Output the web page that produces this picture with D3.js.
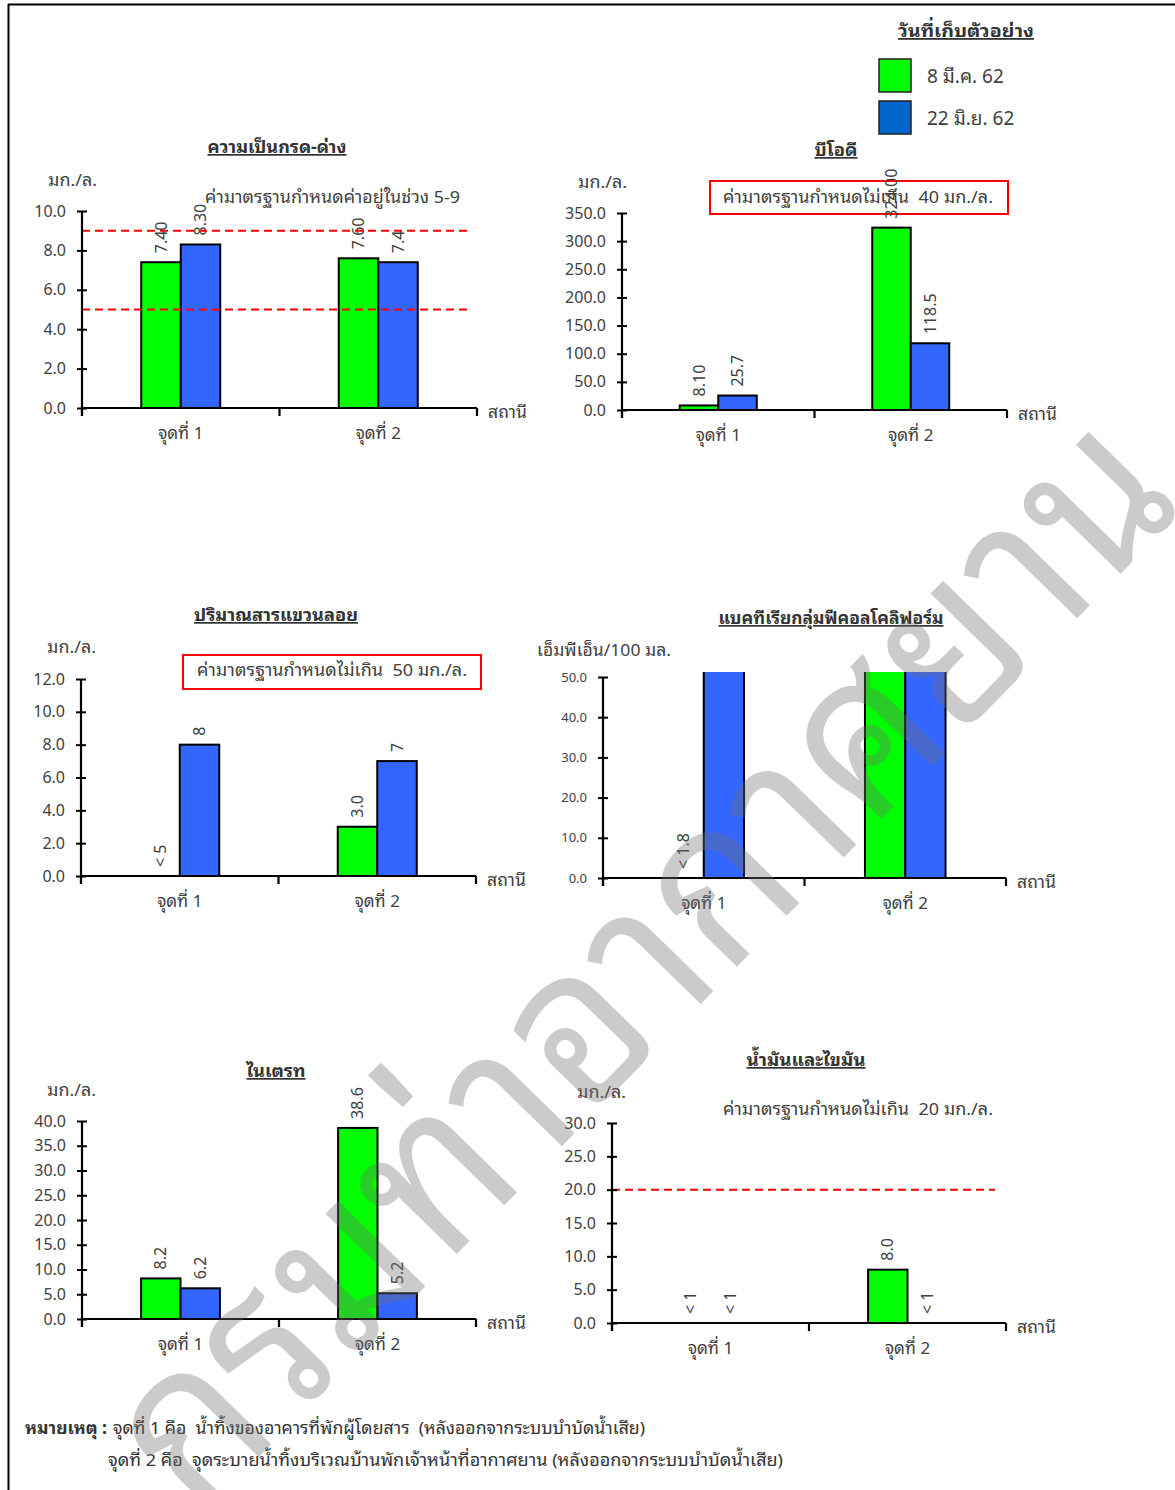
<!DOCTYPE html>
<html><head><meta charset="utf-8">
<script src="https://cdn.jsdelivr.net/npm/d3@7"></script>
<style>
body{margin:0;background:#fff;}
svg text{font-family: Tahoma, "Noto Sans Thai Looped", "Loma", "Garuda", "Noto Sans Thai", "Leelawadee UI", "Noto Sans", "DejaVu Sans", sans-serif;}
</style></head><body>
<svg id="c" width="1175" height="1490"></svg>
<script>
// ---------- DATA ----------
const categories = ["จุดที่ 1", "จุดที่ 2"];
const seriesNames = ["8 มี.ค. 62", "22 มิ.ย. 62"];

const phMar = [7.40, 7.60];
const phJun = [8.30, 7.4];
const phMarLabels = ["7.40", "7.60"];
const phJunLabels = ["8.30", "7.4"];
const phTicks = [0, 2, 4, 6, 8, 10];
const phLimits = [5, 9];

const bodMar = [8.10, 324.0];
const bodJun = [25.7, 118.5];
const bodMarLabels = ["8.10", "324.00"];
const bodJunLabels = ["25.7", "118.5"];
const bodTicks = [0, 50, 100, 150, 200, 250, 300, 350];

const ssMar = [0, 3.0];
const ssJun = [8, 7];
const ssMarLabels = ["< 5", "3.0"];
const ssJunLabels = ["8", "7"];
const ssTicks = [0, 2, 4, 6, 8, 10, 12];

const coliMar = [0, 540];
const coliJun = [350, 920];
const coliMarLabels = ["< 1.8", "540"];
const coliJunLabels = ["350", "920"];
const coliTicks = [0, 10, 20, 30, 40, 50];

const no3Mar = [8.2, 38.6];
const no3Jun = [6.2, 5.2];
const no3MarLabels = ["8.2", "38.6"];
const no3JunLabels = ["6.2", "5.2"];
const no3Ticks = [0, 5, 10, 15, 20, 25, 30, 35, 40];

const oilMar = [0, 8.0];
const oilJun = [0, 0];
const oilMarLabels = ["< 1", "8.0"];
const oilJunLabels = ["< 1", "< 1"];
const oilTicks = [0, 5, 10, 15, 20, 25, 30];
const oilLimits = [20];

// ---------- STYLE ----------
const GREEN = "#00ff00", BLUE = "#3366ff", LEG_BLUE = "#0066cc", TXT = "#404040";
const svg = d3.select("#c");

// page border
svg.append("line").attr("x1", 8).attr("x2", 1175).attr("y1", 4.5).attr("y2", 4.5).attr("stroke", "#000").attr("stroke-width", 2);
svg.append("line").attr("x1", 8.5).attr("x2", 8.5).attr("y1", 4).attr("y2", 1490).attr("stroke", "#000").attr("stroke-width", 2);

const charts = [
  {title: "ความเป็นกรด-ด่าง", titleW: 139, unit: "มก./ล.", unitW: 49, mar: phMar, jun: phJun, marL: phMarLabels, junL: phJunLabels, ticks: phTicks,
   x0: 82, x1: 477, yTop: 211, yBot: 408, titleX: 277, titleY: 153, unitX: 48, unitY: 186,
   std: "ค่ามาตรฐานกำหนดค่าอยู่ในช่วง 5-9", stdW: 255, stdX: 205, stdY: 203, box: null, limits: phLimits, limitEnd: 467, tickFont: 16},
  {title: "บีโอดี", titleW: 43, unit: "มก./ล.", unitW: 49, mar: bodMar, jun: bodJun, marL: bodMarLabels, junL: bodJunLabels, ticks: bodTicks,
   x0: 622, x1: 1007, yTop: 213, yBot: 410, titleX: 836, titleY: 156, unitX: 578, unitY: 188,
   std: "ค่ามาตรฐานกำหนดไม่เกิน  40 มก./ล.", stdW: 270, stdX: 723, stdY: 203, box: [710, 181, 298, 33], limits: [], limitEnd: 0, tickFont: 16},
  {title: "ปริมาณสารแขวนลอย", titleW: 164, unit: "มก./ล.", unitW: 49, mar: ssMar, jun: ssJun, marL: ssMarLabels, junL: ssJunLabels, ticks: ssTicks,
   x0: 81, x1: 476, yTop: 679, yBot: 876, titleX: 276, titleY: 621, unitX: 47, unitY: 653,
   std: "ค่ามาตรฐานกำหนดไม่เกิน  50 มก./ล.", stdW: 270, stdX: 197, stdY: 676, box: [183, 655, 298, 34], limits: [], limitEnd: 0, tickFont: 16},
  {title: "แบคทีเรียกลุ่มฟีคอลโคลิฟอร์ม", titleW: 225, unit: "เอ็มพีเอ็น/100 มล.", unitW: 134, mar: coliMar, jun: coliJun, marL: coliMarLabels, junL: coliJunLabels, ticks: coliTicks,
   x0: 603, x1: 1006, yTop: 677, yBot: 878, titleX: 831, titleY: 624, unitX: 537, unitY: 656,
   std: null, box: null, limits: [], limitEnd: 0, tickFont: 13},
  {title: "ไนเตรท", titleW: 59, unit: "มก./ล.", unitW: 49, mar: no3Mar, jun: no3Jun, marL: no3MarLabels, junL: no3JunLabels, ticks: no3Ticks,
   x0: 82, x1: 476, yTop: 1121, yBot: 1319, titleX: 276, titleY: 1077, unitX: 47, unitY: 1096,
   std: null, box: null, limits: [], limitEnd: 0, tickFont: 16},
  {title: "น้ำมันและไขมัน", titleW: 119, unit: "มก./ล.", unitW: 49, mar: oilMar, jun: oilJun, marL: oilMarLabels, junL: oilJunLabels, ticks: oilTicks,
   x0: 612, x1: 1006, yTop: 1123, yBot: 1323, titleX: 806, titleY: 1066, unitX: 577, unitY: 1098,
   std: "ค่ามาตรฐานกำหนดไม่เกิน  20 มก./ล.", stdW: 270, stdX: 723, stdY: 1115, box: null, limits: oilLimits, limitEnd: 995, tickFont: 16}
];

charts.forEach((c, ci) => {
  const g = svg.append("g");
  const x = d3.scaleBand().domain(categories).range([c.x0, c.x1]);
  const bw = x.bandwidth();
  const xs = d3.scaleBand().domain(seriesNames).range([bw * 0.3, bw * 0.7]);
  const yMax = d3.max(c.ticks);
  const y = d3.scaleLinear().domain([0, yMax]).range([c.yBot, c.yTop]);

  // clip
  const cid = "clip" + ci;
  g.append("clipPath").attr("id", cid).append("rect")
    .attr("x", c.x0).attr("y", c.yTop - 5).attr("width", c.x1 - c.x0).attr("height", c.yBot - c.yTop + 5);

  // title
  g.append("text").attr("x", c.titleX - c.titleW / 2).attr("y", c.titleY)
    .attr("font-size", 17).attr("font-weight", "bold").attr("fill", "#333")
    .attr("textLength", c.titleW).attr("lengthAdjust", "spacingAndGlyphs")
    .style("text-decoration", "underline").text(c.title);
  // unit
  g.append("text").attr("x", c.unitX).attr("y", c.unitY).attr("font-size", 17).attr("fill", TXT)
    .attr("textLength", c.unitW).attr("lengthAdjust", "spacingAndGlyphs").text(c.unit);

  // standard box & text
  if (c.box) {
    g.append("rect").attr("x", c.box[0]).attr("y", c.box[1]).attr("width", c.box[2]).attr("height", c.box[3])
      .attr("fill", "none").attr("stroke", "#ff0000").attr("stroke-width", 2);
  }
  if (c.std) {
    g.append("text").attr("x", c.stdX).attr("y", c.stdY).attr("font-size", 17).attr("fill", TXT)
      .attr("xml:space", "preserve").attr("textLength", c.stdW).attr("lengthAdjust", "spacingAndGlyphs").text(c.std);
  }

  // bars
  const rows = [];
  categories.forEach((cat, i) => {
    rows.push({cat, s: seriesNames[0], v: c.mar[i], lab: c.marL[i], col: GREEN});
    rows.push({cat, s: seriesNames[1], v: c.jun[i], lab: c.junL[i], col: BLUE});
  });
  const bars = g.append("g").attr("clip-path", `url(#${cid})`);
  bars.selectAll("rect").data(rows.filter(d => d.v > 0)).join("rect")
    .attr("x", d => x(d.cat) + xs(d.s))
    .attr("width", xs.bandwidth())
    .attr("y", d => y(d.v))
    .attr("height", d => c.yBot - y(d.v))
    .attr("fill", d => d.col).attr("stroke", "#000").attr("stroke-width", 2);

  // value labels
  g.selectAll("text.val").data(rows.filter(d => d.v <= yMax)).join("text").attr("class", "val")
    .attr("transform", d => `translate(${x(d.cat) + xs(d.s) + xs.bandwidth() / 2},${y(d.v) - 9}) rotate(-90)`)
    .attr("dy", "0.35em").attr("font-size", 16).attr("fill", TXT).text(d => d.lab);

  // limit lines
  g.selectAll("line.lim").data(c.limits).join("line").attr("class", "lim")
    .attr("x1", c.x0).attr("x2", c.limitEnd).attr("y1", d => y(d)).attr("y2", d => y(d))
    .attr("stroke", "#ff0000").attr("stroke-width", 2).attr("stroke-dasharray", "8,5");

  // y axis
  const ya = g.append("g").attr("transform", `translate(${c.x0},0)`)
    .call(d3.axisLeft(y).tickValues(c.ticks).tickFormat(d3.format(".1f")).tickSizeInner(5).tickSizeOuter(0).tickPadding(11));
  ya.select(".domain").attr("stroke-width", 2.2).attr("d", `M0,${c.yTop}V${c.yBot + 8}`);
  ya.selectAll(".tick line").attr("x1", 5).attr("stroke-width", 2);
  ya.selectAll(".tick text").attr("font-size", c.tickFont).attr("fill", TXT).attr("font-family", null);

  // x axis
  const xa = g.append("g").attr("transform", `translate(0,${c.yBot})`)
    .call(d3.axisBottom(x).tickSize(0).tickPadding(19));
  xa.select(".domain").attr("stroke-width", 2.2).attr("d", `M${c.x0},0H${c.x1}`);
  xa.selectAll(".tick text").attr("font-size", 17).attr("fill", TXT).attr("font-family", null);
  const bounds = categories.map(d => x(d)).concat([c.x1]);
  xa.selectAll("line.bt").data(bounds).join("line").attr("class", "bt")
    .attr("x1", d => d).attr("x2", d => d).attr("y1", 0).attr("y2", 8)
    .attr("stroke", "#000").attr("stroke-width", 2.2);
  xa.append("text").attr("x", c.x1 + 11).attr("y", 10).attr("text-anchor", "start")
    .attr("font-size", 17).attr("fill", TXT).attr("font-family", null)
    .attr("textLength", 39).attr("lengthAdjust", "spacingAndGlyphs").text("สถานี");
});

// legend
const lg = svg.append("g");
lg.append("text").attr("x", 898).attr("y", 37).attr("font-size", 18)
  .attr("textLength", 136).attr("lengthAdjust", "spacingAndGlyphs")
  .attr("font-weight", "bold").attr("fill", "#333").style("text-decoration", "underline").text("วันที่เก็บตัวอย่าง");
const legCols = [GREEN, LEG_BLUE];
seriesNames.forEach((s, i) => {
  lg.append("rect").attr("x", 879).attr("y", 59 + i * 42).attr("width", 32).attr("height", 33)
    .attr("fill", legCols[i]).attr("stroke", "#222").attr("stroke-width", 1.5);
  lg.append("text").attr("x", 927).attr("y", 83 + i * 42).attr("font-size", 19).attr("fill", TXT).text(s);
});

// footnote
const fn = svg.append("g").attr("font-size", 17).attr("fill", "#333");
fn.append("text").attr("x", 25).attr("y", 1434).attr("font-weight", "bold")
  .attr("textLength", 82).attr("lengthAdjust", "spacingAndGlyphs").text("หมายเหตุ :");
fn.append("text").attr("x", 113).attr("y", 1434).attr("xml:space", "preserve")
  .attr("textLength", 532).attr("lengthAdjust", "spacingAndGlyphs")
  .text("จุดที่ 1 คือ  น้ำทิ้งของอาคารที่พักผู้โดยสาร  (หลังออกจากระบบบำบัดน้ำเสีย)");
fn.append("text").attr("x", 108).attr("y", 1466).attr("xml:space", "preserve")
  .attr("textLength", 675).attr("lengthAdjust", "spacingAndGlyphs")
  .text("จุดที่ 2 คือ  จุดระบายน้ำทิ้งบริเวณบ้านพักเจ้าหน้าที่อากาศยาน (หลังออกจากระบบบำบัดน้ำเสีย)");

// watermark
svg.append("text").attr("transform", "translate(638,958) rotate(-45.7)")
  .attr("text-anchor", "middle").attr("dy", "0.35em").attr("font-size", 220)
  .attr("fill", "rgb(110,110,110)").attr("fill-opacity", 0.36)
  .attr("textLength", 1420).attr("lengthAdjust", "spacingAndGlyphs")
  .text("กรมท่าอากาศยาน");
</script>
</body></html>
